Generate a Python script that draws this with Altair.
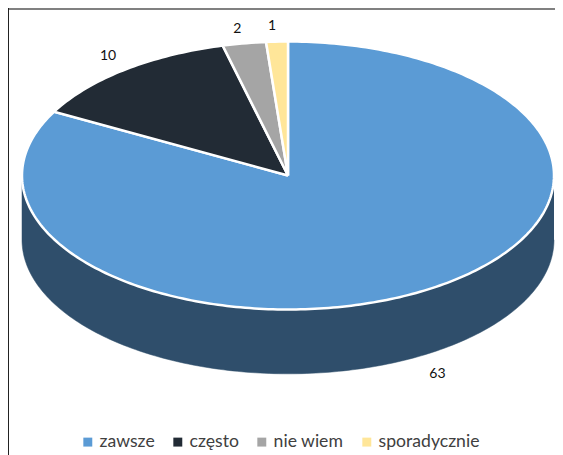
import math
import altair as alt
import pandas as pd

categories = ["zawsze", "często", "nie wiem", "sporadycznie"]
values = [63, 10, 2, 1]
colors = ["#5B9BD5", "#222B35", "#A5A5A5", "#FFE699"]
side_color = "#2F4E6B"
label_nudge_x = [0.05, -0.062, -0.026, -0.019]
label_nudge_y = [-0.625, 0.10, 0.11, 0.12]

W, H = 547, 447
CX, CY = 280, 167.5      # pie centre within the chart
RX, RY = 266, 134        # pie radii: the scales squash the unit circle
DEPTH = 0.48             # wall height, in units of RY
STEP = 1.0               # degrees between outline points

x_scale = alt.Scale(domain=[-CX / RX, (W - CX) / RX], range=[0, W], nice=False, zero=False)
y_scale = alt.Scale(domain=[(CY - H) / RY, CY / RY], range=[H, 0], nice=False, zero=False)
X = alt.X("x:Q", scale=x_scale, axis=None)
Y = alt.Y("y:Q", scale=y_scale, axis=None)

total = sum(values)
rows, labels = [], []
start = 0.0
for i, (c, v) in enumerate(zip(categories, values)):
    a0 = start
    a1 = start + v / total * 360
    n = max(2, int(round((a1 - a0) / STEP)))
    pts = [(0.0, 0.0)]
    for k in range(n + 1):
        a = math.radians(a0 + (a1 - a0) * k / n)
        pts.append((math.sin(a), math.cos(a)))
    pts.append((0.0, 0.0))
    for k, (px, py) in enumerate(pts):
        rows.append({"cat": c, "idx": k, "x": px, "y": py})
    m = math.radians((a0 + a1) / 2)
    labels.append({"x": math.sin(m) + label_nudge_x[i], "y": math.cos(m) + label_nudge_y[i], "t": str(v)})
    start = a1

wall = []
front = list(range(90, 271))
for k, d in enumerate(front):
    a = math.radians(d)
    wall.append({"idx": k, "x": math.sin(a), "y": math.cos(a)})
for k, d in enumerate(reversed(front)):
    a = math.radians(d)
    wall.append({"idx": k + len(front), "x": math.sin(a), "y": math.cos(a) - DEPTH})

wall_layer = alt.Chart(pd.DataFrame(wall)).mark_line(
    fill=side_color, stroke=side_color, strokeWidth=0.5
).encode(x=X, y=Y, order="idx:Q")

top_layer = alt.Chart(pd.DataFrame(rows)).mark_line(
    strokeWidth=2.5, strokeJoin="miter"
).encode(
    x=X, y=Y, order="idx:Q",
    stroke=alt.value("white"),
    fill=alt.Fill(
        "cat:N",
        scale=alt.Scale(domain=categories, range=colors),
        sort=categories,
        legend=alt.Legend(
            title=None, orient="none", legendX=71, legendY=425, direction="horizontal",
            columns=4, symbolType="square", symbolSize=80, symbolStrokeWidth=0,
            labelFont="Lato", labelFontSize=17.6, labelColor="#404040",
            columnPadding=14, labelOffset=3, symbolOffset=0, padding=0,
        ),
    ),
)

text_layer = alt.Chart(pd.DataFrame(labels)).mark_text(
    font="Lato", fontSize=14, color="#111111"
).encode(x=X, y=Y, text="t:N")

top_rule = alt.Chart(pd.DataFrame({"a": [0]})).mark_rule(color="#808080", strokeWidth=2).encode(
    x=alt.value(0), x2=alt.value(W), y=alt.value(1)
)
left_rule = alt.Chart(pd.DataFrame({"a": [0]})).mark_rule(color="#222222", strokeWidth=1).encode(
    x=alt.value(0.5), y=alt.value(0), y2=alt.value(H)
)

chart = (
    alt.layer(wall_layer, top_layer, text_layer, top_rule, left_rule)
    .resolve_scale(fill="independent")
    .properties(width=W, height=H, padding=0, autosize=alt.AutoSizeParams(type="none"))
    .configure_view(stroke=None)
    .configure(background="white")
)

chart.save("out.html", embed_options={"renderer": "svg", "actions": False})
